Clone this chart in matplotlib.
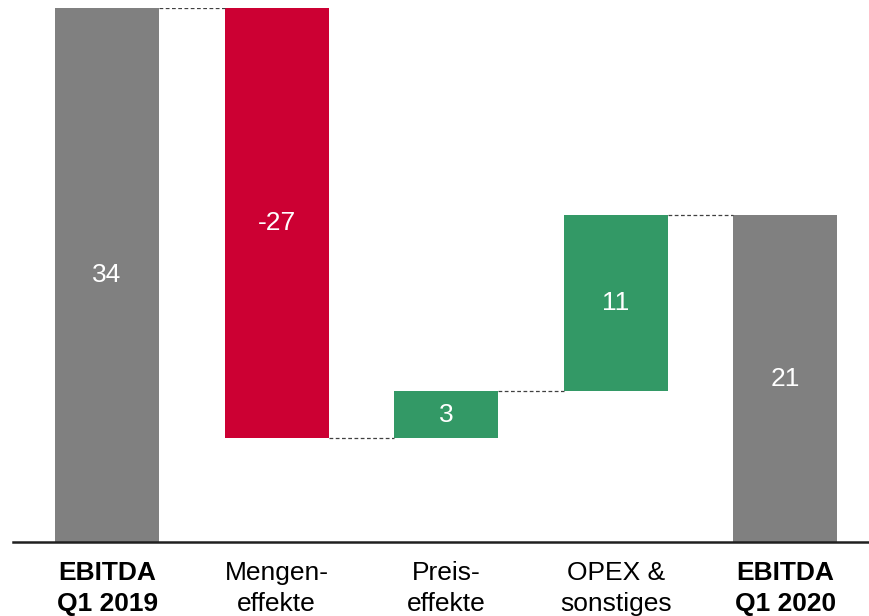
import matplotlib.pyplot as plt

plt.rcParams['font.family'] = ['Liberation Sans', 'DejaVu Sans']

labels = ['EBITDA\nQ1 2019', 'Mengen-\neffekte', 'Preis-\neffekte', 'OPEX &\nsonstiges', 'EBITDA\nQ1 2020']
values = [34.0, -27.4, 3.0, 11.2, 20.8]
kinds = ['total', 'delta', 'delta', 'delta', 'total']

GRAY = '#808080'
RED = '#CC0033'
GREEN = '#339966'

fig = plt.figure(figsize=(8.7, 6.16), dpi=100)
ax = fig.add_axes([13 / 870, 74 / 616, 857 / 870, 534 / 616])

width = 0.614
running = 0
tops = []
for i, (v, k) in enumerate(zip(values, kinds)):
    if k == 'total':
        bottom, height, color = 0, v, GRAY
        running = v
    else:
        bottom = running + min(v, 0)
        height = abs(v)
        color = GREEN if v > 0 else RED
        running += v
    ax.bar(i, height, bottom=bottom, width=width, color=color)
    ax.text(i, bottom + height / 2, f'{v:.0f}', ha='center', va='center',
            color='white', fontsize=19)
    tops.append(running)

# connector lines
for i in range(len(values) - 1):
    ax.plot([i + width / 2, i + 1 - width / 2], [tops[i], tops[i]],
            linestyle=(0, (3, 2)), color='#404040', linewidth=0.9)

ax.set_xlim(-0.555, 4.50)
ax.set_ylim(0, 34)
ax.set_xticks(range(len(labels)))
ax.set_xticklabels(labels, fontsize=19, linespacing=1.33)
for t, k in zip(ax.get_xticklabels(), kinds):
    if k == 'total':
        t.set_fontweight('bold')
ax.tick_params(axis='x', length=0, pad=14)
ax.set_yticks([])
for s in ['top', 'right', 'left']:
    ax.spines[s].set_visible(False)
ax.spines['bottom'].set_linewidth(1.8)
ax.spines['bottom'].set_color('#202020')

fig.savefig('out.png', dpi=100)
